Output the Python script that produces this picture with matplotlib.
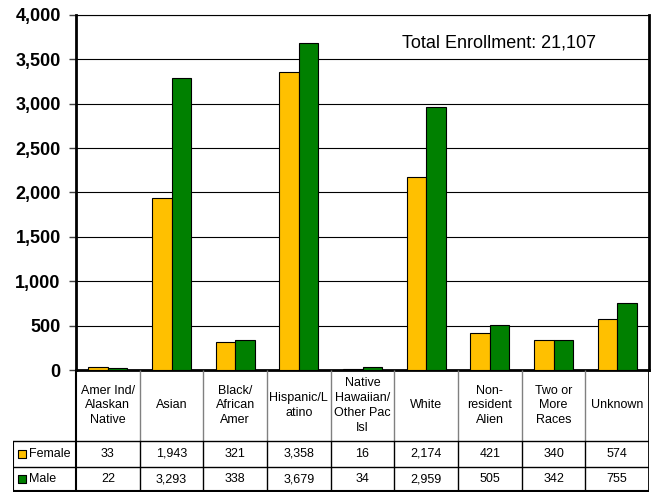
import matplotlib
matplotlib.use("Agg")
import matplotlib.pyplot as plt
import numpy as np

# chart data
categories = ["Amer Ind/\nAlaskan\nNative", "Asian", "Black/\nAfrican\nAmer",
              "Hispanic/L\natino", "Native\nHawaiian/\nOther Pac\nIsl", "White",
              "Non-\nresident\nAlien", "Two or\nMore\nRaces", "Unknown"]
female = [33, 1943, 321, 3358, 16, 2174, 421, 340, 574]
male = [22, 3293, 338, 3679, 34, 2959, 505, 342, 755]
series_names = ["Female", "Male"]
yticks = list(range(0, 4001, 500))

GOLD = "#FFC000"
GREEN = "#008000"
W, H = 652, 494

plt.rcParams['font.family'] = ["Liberation Sans", "DejaVu Sans"]
tbl_font = dict(family=["Liberation Sans", "DejaVu Sans"], fontsize=9)

fig = plt.figure(figsize=(W / 100, H / 100), dpi=100)

# pixel layout of the plot area
left_px, right_px, top_px, zero_px, bottom_px, table_left_px = 76, 649, 15, 370, 492, 13
ax = fig.add_axes([left_px / W, (H - zero_px) / H, (right_px - left_px) / W, (zero_px - top_px) / H])

n = len(categories)
x = np.arange(n) + 0.5
bw = 0.308
ax.bar(x - bw / 2, female, bw, color=GOLD, edgecolor="black", linewidth=0.8, zorder=3)
ax.bar(x + bw / 2, male, bw, color=GREEN, edgecolor="black", linewidth=0.8, zorder=3)

ax.set_xlim(0, n)
ax.set_ylim(0, 4000)
ax.set_yticks(yticks)
ax.set_yticklabels([f"{v:,}" for v in yticks], fontsize=13, fontweight="bold")
ax.tick_params(axis="y", length=5, width=1, pad=6, color="#404040")
ax.set_xticks([])
ax.grid(axis="y", color="black", linewidth=0.8, zorder=0)
for s in ["left", "bottom", "right"]:
    ax.spines[s].set_linewidth(2)
ax.spines["top"].set_linewidth(0.8)

total = sum(female) + sum(male)
ax.text(402 / W, (H - 43) / H, f"Total Enrollment: {total:,}", transform=fig.transFigure,
        fontsize=13, ha="left", va="center")

# data table under the chart
unit = (right_px - left_px) / n
x0 = (table_left_px - left_px) / unit
tax = fig.add_axes([table_left_px / W, (H - bottom_px) / H, (right_px - table_left_px) / W,
                    (bottom_px - zero_px) / H])
tax.set_xlim(x0, n)
tax.set_ylim(bottom_px, zero_px)
tax.axis("off")

row1, row2 = 441, 467
# header dividers (gray) and data-row dividers (black)
for i in range(1, n):
    tax.plot([i, i], [zero_px, row1], color="#808080", lw=1, solid_capstyle="butt")
    tax.plot([i, i], [row1, bottom_px], color="black", lw=1, solid_capstyle="butt")
tax.plot([0, 0], [zero_px, bottom_px], color="black", lw=1.5, solid_capstyle="butt")
tax.plot([n, n], [zero_px, bottom_px], color="black", lw=2, solid_capstyle="butt")
tax.plot([x0, x0], [row1, bottom_px], color="black", lw=1.5, solid_capstyle="butt")
for yy in [row1, row2]:
    tax.plot([x0, n], [yy, yy], color="black", lw=1)
tax.plot([x0, n], [bottom_px - 0.5, bottom_px - 0.5], color="black", lw=1.5)

hdr_c = (zero_px + row1) / 2
for i, c in enumerate(categories):
    tax.text(i + 0.5, hdr_c, c, ha="center", va="center", linespacing=1.3, **tbl_font)

rows = [(female, GOLD, (row1 + row2) / 2), (male, GREEN, (row2 + bottom_px) / 2)]
for name, (vals, col, yc) in zip(series_names, rows):
    for i, v in enumerate(vals):
        tax.text(i + 0.5, yc, f"{v:,}", ha="center", va="center", **tbl_font)
    tax.scatter([x0 + 0.14], [yc], marker="s", s=32, color=col, edgecolor="black", linewidth=0.8)
    tax.text(x0 + 0.25, yc, name, ha="left", va="center", **tbl_font)

fig.savefig("out.png", dpi=100, facecolor="white")
